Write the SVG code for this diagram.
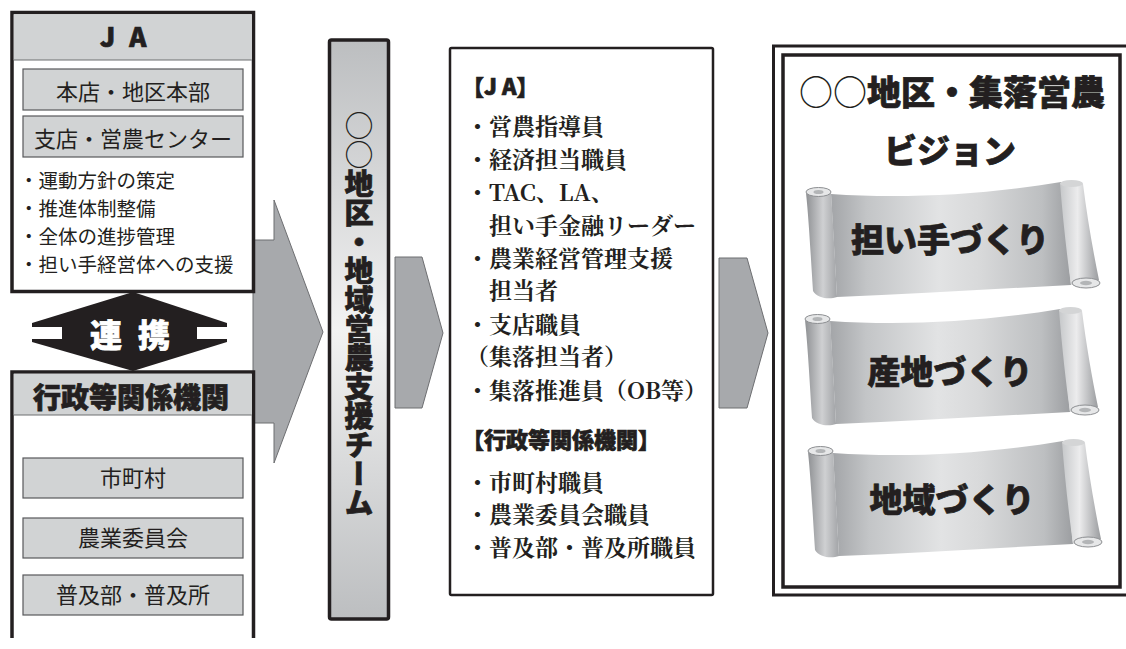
<svg xmlns="http://www.w3.org/2000/svg" width="1126" height="649" viewBox="0 0 1126 649">
  <style>
    .frame { fill: #ffffff; stroke: #231f20; stroke-width: 3.5; }
    .hdr { fill: #d1d3d4; }
    .sep { stroke: #6d6e71; stroke-width: 1; }
    .unit { fill: #d1d3d4; stroke: #58595b; stroke-width: 1.2; }
    .flow { fill: #a7a9ac; stroke: #6d6e71; stroke-width: 1; }
    .goth { font-family: "Noto Sans CJK JP", "Noto Sans", sans-serif; fill: #231f20; }
    .heavy { font-family: "Noto Sans CJK JP", "Noto Sans", sans-serif; font-weight: 900; fill: #231f20; stroke: #231f20; stroke-width: 0.7; }
    .mincho { font-family: "Noto Serif CJK JP", "Liberation Serif", "Noto Sans CJK JP", serif; font-weight: bold; fill: #231f20; font-size: 23px; }
    .unitText { font-size: 22px; text-anchor: middle; }
    .bullet { font-size: 19.5px; }
    .scrollText { font-size: 33px; text-anchor: middle; }
    .thin { font-weight: 500; stroke-width: 0; }
  </style>
  <defs>
    <linearGradient id="colGrad" x1="0" y1="0" x2="0" y2="1">
      <stop offset="0" stop-color="#bcbec0"/>
      <stop offset="0.5" stop-color="#f2f2f2"/>
      <stop offset="1" stop-color="#bcbec0"/>
    </linearGradient>
    <linearGradient id="bannerGrad" x1="0" y1="0" x2="1" y2="0">
      <stop offset="0" stop-color="#a3a5a8"/>
      <stop offset="0.15" stop-color="#c3c5c7"/>
      <stop offset="0.45" stop-color="#e2e3e4"/>
      <stop offset="0.62" stop-color="#d8d9da"/>
      <stop offset="0.88" stop-color="#bdbfc1"/>
      <stop offset="1" stop-color="#9c9ea1"/>
    </linearGradient>
    <linearGradient id="rollL" x1="0" y1="0" x2="1" y2="0">
      <stop offset="0" stop-color="#8f9194"/>
      <stop offset="0.55" stop-color="#cfd0d2"/>
      <stop offset="1" stop-color="#a2a4a7"/>
    </linearGradient>
    <linearGradient id="rollR" x1="0" y1="0" x2="1" y2="0">
      <stop offset="0" stop-color="#c6c8ca"/>
      <stop offset="0.45" stop-color="#ececed"/>
      <stop offset="1" stop-color="#9a9c9f"/>
    </linearGradient>
    <!-- banner scroll with a roll at each end -->
    <g id="scroll">
      <path d="M28,13 C100,18 180,14 258,1 L268,104 C190,108 110,113 34,116 Z" fill="url(#bannerGrad)"/>
      <path d="M3,12 C6,40 8,80 10,110 C14,117 26,119 34,116 C32,80 30,40 28,12 Z" fill="url(#rollL)"/>
      <ellipse cx="15.5" cy="11" rx="12.5" ry="4.5" fill="#e6e7e8" stroke="#8d8f92" stroke-width="1"/>
      <ellipse cx="15.5" cy="11" rx="5" ry="2" fill="#b3b5b7"/>
      <path d="M257,2 C260,40 264,75 268,104 L296,99 C290,70 284,35 280,3 Z" fill="url(#rollR)"/>
      <ellipse cx="268.5" cy="2.5" rx="11.5" ry="3.5" fill="#d4d5d6"/>
      <ellipse cx="283" cy="102" rx="14" ry="5" fill="#e6e7e8" stroke="#8d8f92" stroke-width="1"/>
      <ellipse cx="283" cy="102" rx="6" ry="2.2" fill="#b3b5b7"/>
    </g>
  </defs>

  <rect width="1126" height="649" fill="#ffffff"/>

  <!-- connectors -->
  <g id="connectors">
    <polygon class="flow" points="253,240 274,240 274,200 323,332 274,463 274,423 253,423"/>
    <polygon class="flow" points="395,257 422,257 443,333 422,408 395,408"/>
    <polygon class="flow" points="719,258 747,258 768,333 747,408 719,408"/>
  </g>

  <!-- JA -->
  <g id="node-ja">
    <rect class="frame" x="12" y="12.5" width="241.5" height="279"/>
    <rect class="hdr" x="13.75" y="14.25" width="238" height="45.75"/>
    <line class="sep" x1="13.75" y1="60" x2="251.75" y2="60"/>
    <text class="heavy" x="100" y="47" font-size="26" letter-spacing="4">J A</text>
    <rect class="unit" x="23" y="69" width="220" height="41"/>
    <text class="goth unitText" x="133" y="100">本店・地区本部</text>
    <rect class="unit" x="23" y="116" width="220" height="41"/>
    <text class="goth unitText" x="133" y="147">支店・営農センター</text>
    <text class="goth bullet" x="19" y="188">・運動方針の策定</text>
    <text class="goth bullet" x="19" y="216">・推進体制整備</text>
    <text class="goth bullet" x="19" y="244">・全体の進捗管理</text>
    <text class="goth bullet" x="19" y="272">・担い手経営体への支援</text>
  </g>

  <!-- cooperation link -->
  <g id="node-link">
    <polygon points="133,292 227,323 227,342 133,371 32,342 32,323" fill="#231f20"/>
    <rect x="31" y="327" width="31" height="12" fill="#ffffff"/>
    <rect x="197" y="327" width="31" height="12" fill="#ffffff"/>
    <text class="heavy" x="90" y="347" font-size="32" letter-spacing="16" style="fill:#ffffff; stroke:#ffffff">連携</text>
  </g>

  <!-- administrative bodies -->
  <g id="node-gov">
    <path class="frame" d="M12,638 V372 H253.5 V638"/>
    <rect class="hdr" x="13.75" y="373.75" width="238" height="41.25"/>
    <line class="sep" x1="13.75" y1="415" x2="251.75" y2="415"/>
    <text class="heavy" x="131" y="408" font-size="28" text-anchor="middle">行政等関係機関</text>
    <rect class="unit" x="23" y="458" width="220" height="40"/>
    <text class="goth unitText" x="133" y="486">市町村</text>
    <rect class="unit" x="23" y="518" width="220" height="40"/>
    <text class="goth unitText" x="133" y="546">農業委員会</text>
    <rect class="unit" x="23" y="575" width="220" height="40"/>
    <text class="goth unitText" x="133" y="603">普及部・普及所</text>
  </g>

  <!-- support team column -->
  <g id="node-team">
    <rect x="329.5" y="40" width="59" height="579" rx="2" fill="url(#colGrad)" stroke="#231f20" stroke-width="3.5"/>
    <text class="heavy" x="359" y="111" font-size="29" writing-mode="vertical-rl" style="writing-mode: vertical-rl"><tspan class="thin">○○</tspan>地区・地域営農支援チーム</text>
  </g>

  <!-- team members -->
  <g id="node-members">
    <rect x="450" y="48" width="263" height="547" rx="1.5" fill="#ffffff" stroke="#231f20" stroke-width="2.5"/>
    <text class="heavy" x="462" y="95" font-size="22">【J A】</text>
    <text class="mincho" x="466" y="135">・営農指導員</text>
    <text class="mincho" x="466" y="168">・経済担当職員</text>
    <text class="mincho" x="466" y="201">・TAC、LA、</text>
    <text class="mincho" x="489" y="234">担い手金融リーダー</text>
    <text class="mincho" x="466" y="267">・農業経営管理支援</text>
    <text class="mincho" x="489" y="299">担当者</text>
    <text class="mincho" x="466" y="333">・支店職員</text>
    <text class="mincho" x="466" y="365">（集落担当者）</text>
    <text class="mincho" x="466" y="399">・集落推進員（OB等）</text>
    <text class="heavy" x="462" y="448" font-size="22">【行政等関係機関】</text>
    <text class="mincho" x="466" y="491">・市町村職員</text>
    <text class="mincho" x="466" y="523">・農業委員会職員</text>
    <text class="mincho" x="466" y="556">・普及部・普及所職員</text>
  </g>

  <!-- vision -->
  <g id="node-vision">
    <rect x="773.5" y="46" width="356" height="549" fill="#ffffff" stroke="#231f20" stroke-width="3"/>
    <rect x="783" y="55" width="337" height="532" fill="#ffffff" stroke="#231f20" stroke-width="3.5"/>
    <text class="heavy" x="952" y="105" font-size="34" text-anchor="middle"><tspan class="thin">○○</tspan>地区・集落営農</text>
    <text class="heavy" x="950" y="163" font-size="33" text-anchor="middle">ビジョン</text>
    <use href="#scroll" transform="translate(803,181)"/>
    <text class="heavy scrollText" x="950" y="252">担い手づくり</text>
    <use href="#scroll" transform="translate(802,308)"/>
    <text class="heavy scrollText" x="950" y="384">産地づくり</text>
    <use href="#scroll" transform="translate(805,440)"/>
    <text class="heavy scrollText" x="952" y="512">地域づくり</text>
  </g>
</svg>
